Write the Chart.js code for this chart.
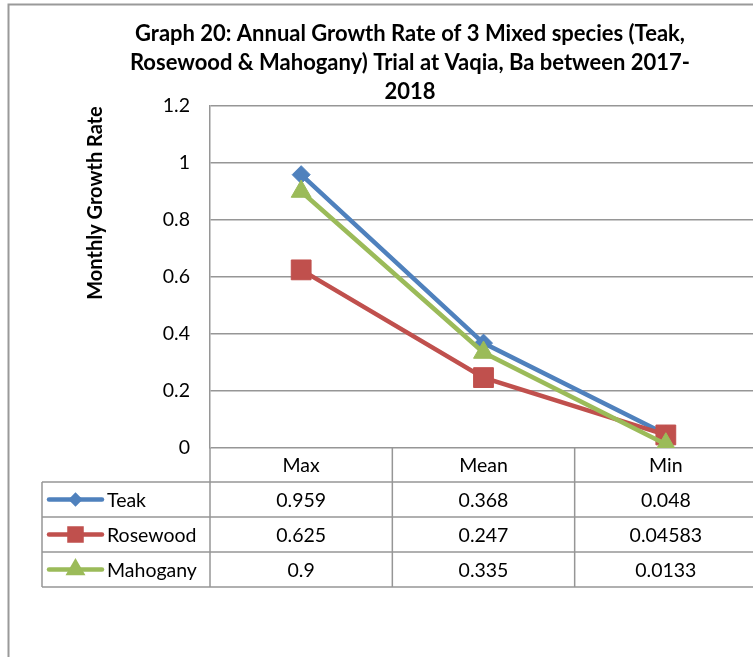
<!DOCTYPE html>
<html>
<head>
<meta charset="utf-8">
<script src="https://cdn.jsdelivr.net/npm/chart.js@4.4.1/dist/chart.umd.min.js"></script>
<style>
    html, body { margin: 0; padding: 0; background: #fff; overflow: hidden; }
    #wrap { width: 753px; height: 657px; overflow: hidden; position: relative; }
    canvas { position: absolute; left: 0; top: 0; }
</style>
</head>
<body>
<div id="wrap"><canvas id="chart" width="820" height="657"></canvas></div>
<script>
// Data
const CATEGORIES = ['Max', 'Mean', 'Min'];
const TEAK = [0.959, 0.368, 0.048];
const ROSEWOOD = [0.625, 0.247, 0.04583];
const MAHOGANY = [0.9, 0.335, 0.0133];
const Y_TICKS = ['0', '0.2', '0.4', '0.6', '0.8', '1', '1.2'];

const TITLE_LINES = [
    'Graph 20: Annual Growth Rate of 3 Mixed species (Teak,',
    'Rosewood & Mahogany) Trial at Vaqia, Ba between 2017-',
    '2018'
];
const Y_TITLE = 'Monthly Growth Rate';

const COLORS = {
    teak: '#4F81BD',
    rosewood: '#C0504D',
    mahogany: '#9BBB59',
    grid: '#969696',
    text: '#000000',
};

const FONT = "Lato, 'Open Sans', sans-serif";
const TEXT_SIZE = 19.5;
const HEADER_H = 34;
const ROW_H = 35;
const LEGEND_LEFT = 42;

// Title, y-axis title, outer border and the data table below the plot
const tablePlugin = {
    id: 'excelTable',
    afterDraw(chart) {
        const ctx = chart.ctx;
        const area = chart.chartArea;
        const x = chart.scales.x;
        const step = x.getPixelForValue(1) - x.getPixelForValue(0);
        const edges = [];
        for (let i = 0; i <= CATEGORIES.length; i++) {
            edges.push(x.getPixelForValue(0) - step / 2 + i * step);
        }
        const right = edges[edges.length - 1];
        const top = area.bottom;
        const rowsTop = top + HEADER_H;
        const bottom = rowsTop + ROW_H * chart.data.datasets.length;

        ctx.save();

        // outer chart border
        ctx.strokeStyle = '#9a9a9a';
        ctx.lineWidth = 2;
        ctx.strokeRect(8.5, 4.5, 900, 900);

        // title
        ctx.fillStyle = COLORS.text;
        ctx.font = 'bold 22px ' + FONT;
        ctx.textAlign = 'center';
        ctx.textBaseline = 'middle';
        TITLE_LINES.forEach((t, i) => ctx.fillText(t, 410, 34 + i * 29));

        // y axis title
        ctx.save();
        ctx.translate(96, 203);
        ctx.rotate(-Math.PI / 2);
        ctx.font = 'bold 20px ' + FONT;
        ctx.fillText(Y_TITLE, 0, 0);
        ctx.restore();

        // table grid
        ctx.strokeStyle = COLORS.grid;
        ctx.lineWidth = 1.5;
        ctx.beginPath();
        for (let r = 0; r <= chart.data.datasets.length; r++) {
            const y = rowsTop + r * ROW_H;
            ctx.moveTo(LEGEND_LEFT, y);
            ctx.lineTo(right + 5, y);
        }
        ctx.moveTo(LEGEND_LEFT, rowsTop);
        ctx.lineTo(LEGEND_LEFT, bottom);
        edges.forEach(e => {
            ctx.moveTo(e, top);
            ctx.lineTo(e, bottom);
        });
        ctx.stroke();

        // header labels
        ctx.font = TEXT_SIZE + 'px ' + FONT;
        ctx.fillStyle = COLORS.text;
        ctx.textAlign = 'center';
        CATEGORIES.forEach((c, i) => {
            ctx.fillText(c, x.getPixelForValue(i), top + HEADER_H / 2 + 1);
        });

        // rows: legend key + values
        chart.data.datasets.forEach((ds, r) => {
            const cy = rowsTop + r * ROW_H + ROW_H / 2;
            ctx.strokeStyle = ds.borderColor;
            ctx.lineWidth = 4.5;
            ctx.lineCap = 'round';
            ctx.beginPath();
            ctx.moveTo(49, cy);
            ctx.lineTo(102, cy);
            ctx.stroke();
            Chart.helpers.drawPoint(ctx, {
                pointStyle: ds.pointStyle,
                radius: ds.legendRadius,
                rotation: 0,
                borderWidth: 1,
            }, 75.5, cy);
            ctx.fillStyle = ds.borderColor;
            ctx.fill();

            ctx.fillStyle = COLORS.text;
            ctx.textAlign = 'left';
            ctx.fillText(ds.label, 107, cy + 1);
            ctx.textAlign = 'center';
            ds.data.forEach((v, i) => {
                ctx.fillText(String(v), x.getPixelForValue(i), cy + 1);
            });
        });

        ctx.restore();
    }
};

function series(label, data, color, style, radius, legendRadius, order) {
    return {
        label: label,
        data: data,
        borderColor: color,
        backgroundColor: color,
        borderWidth: 4.5,
        pointStyle: style,
        pointRadius: radius,
        pointHoverRadius: radius,
        pointBorderWidth: 1,
        pointBackgroundColor: color,
        pointBorderColor: color,
        legendRadius: legendRadius,
        order: order,
        tension: 0,
    };
}

new Chart(document.getElementById('chart'), {
    type: 'line',
    data: {
        labels: CATEGORIES,
        datasets: [
            series('Teak', TEAK, COLORS.teak, 'rectRot', 9, 4, 2),
            series('Rosewood', ROSEWOOD, COLORS.rosewood, 'rect', 14, 8.5, 1),
            series('Mahogany', MAHOGANY, COLORS.mahogany, 'triangle', 11.5, 7, 0),
        ]
    },
    options: {
        responsive: false,
        animation: false,
        layout: { padding: { top: 106, bottom: 209, left: 0, right: 63 } },
        plugins: {
            legend: { display: false },
            title: { display: false },
            tooltip: { enabled: false },
        },
        scales: {
            x: {
                offset: true,
                ticks: { display: false },
                grid: { display: false },
                border: { display: false },
                afterFit: (scale) => { scale.height = 0; },
            },
            y: {
                min: 0,
                max: 1.2,
                ticks: {
                    stepSize: 0.2,
                    padding: 20,
                    color: COLORS.text,
                    font: { family: FONT, size: TEXT_SIZE },
                    callback: (v, i) => Y_TICKS[i],
                },
                grid: { color: COLORS.grid, lineWidth: 1.5, drawTicks: false },
                border: { display: true, color: COLORS.grid, width: 1.5 },
                afterFit: (scale) => { scale.width = 210; },
            }
        }
    },
    plugins: [tablePlugin]
});
</script>
</body>
</html>
